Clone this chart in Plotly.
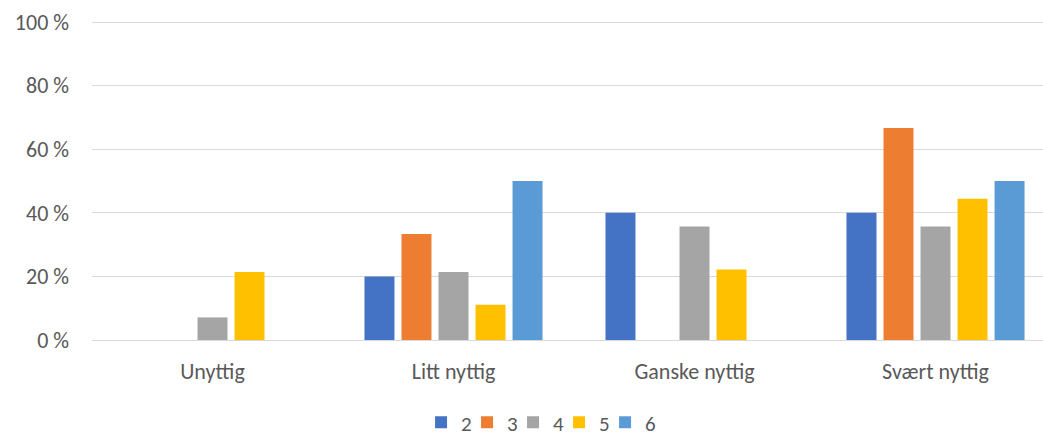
import plotly.graph_objects as go

categories = ["Unyttig", "Litt nyttig", "Ganske nyttig", "Svært nyttig"]
series_names = ["2", "3", "4", "5", "6"]
s2 = [0, 20.0, 40.0, 40.0]
s3 = [0, 33.3, 0, 66.7]
s4 = [7.1, 21.4, 35.7, 35.7]
s5 = [21.4, 11.1, 22.2, 44.4]
s6 = [0, 50.0, 0, 50.0]
y_ticks = [0, 20, 40, 60, 80, 100]
y_tick_text = ["0 %", "20 %", "40 %", "60 %", "80 %", "100 %"]

colors = ["#4472C4", "#ED7D31", "#A5A5A5", "#FFC000", "#5B9BD5"]
FONT = "Calibri, Carlito, Lato, sans-serif"
FS = 22

fig = go.Figure()
for name, vals, col in zip(series_names, [s2, s3, s4, s5, s6], colors):
    fig.add_trace(go.Bar(x=categories, y=vals, name=name,
                         marker=dict(color=col, line=dict(width=0))))
# legend-only spacer entry so the last legend label is not clipped
fig.add_trace(go.Scatter(x=[None], y=[None], mode="markers", name=" ",
                         marker=dict(color="rgba(0,0,0,0)", size=1),
                         hoverinfo="skip"))

fig.update_layout(
    width=1043, height=438,
    margin=dict(l=92, r=0, t=20, b=98, autoexpand=False),
    paper_bgcolor="white", plot_bgcolor="white",
    barmode="group", bargap=0.232, bargroupgap=0.19,
    font=dict(family=FONT, size=FS, color="#595959"),
    showlegend=True,
    legend=dict(orientation="h", xref="container", yref="container",
                x=0.536, xanchor="center", y=0.035, yanchor="middle",
                font=dict(size=21, color="#595959"), itemwidth=30,
                entrywidth=1, entrywidthmode="pixels", traceorder="normal"),
    xaxis=dict(range=[-0.5, 3.446], showgrid=False, showline=False, ticks="",
               ticklabelstandoff=16, tickfont=dict(size=FS, color="#595959")),
    yaxis=dict(range=[0, 100.63], tickvals=y_ticks, ticktext=y_tick_text,
               showgrid=True, gridcolor="#D9D9D9", gridwidth=1.3,
               zeroline=True, zerolinecolor="#D9D9D9", zerolinewidth=1.3,
               showline=False, ticks="", ticklabelstandoff=22,
               tickfont=dict(size=FS, color="#595959")),
)

fig.write_html("out.html")
